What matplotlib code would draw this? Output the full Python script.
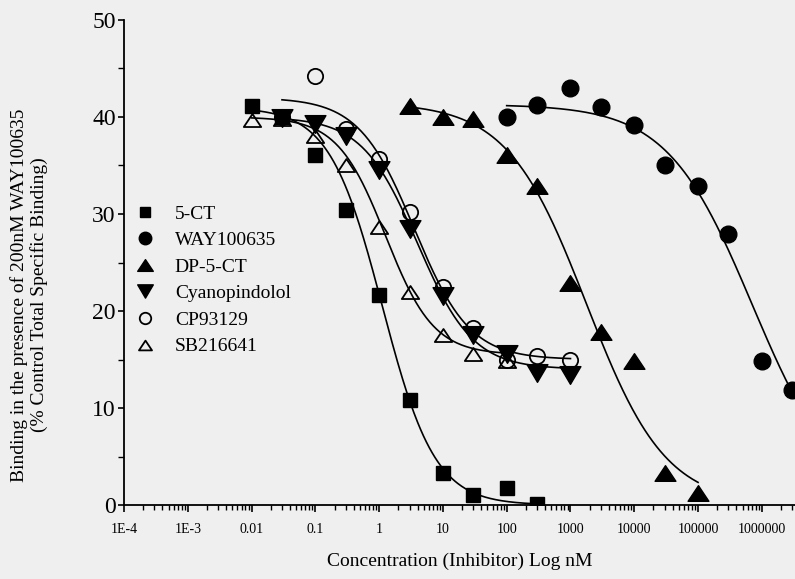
import numpy as np
import matplotlib
matplotlib.use('Agg')
import matplotlib.pyplot as plt
from matplotlib.path import Path
from matplotlib.ticker import FixedLocator, FixedFormatter, LogLocator, NullFormatter, MultipleLocator

plt.rcParams['font.family'] = ['Liberation Serif', 'DejaVu Serif']

# концентрация ингибитора (нМ) и связывание (% от контроля)
ct5_x = [0.01, 0.03, 0.1, 0.3, 1, 3, 10, 30, 100, 300]
ct5_y = [41.1, 40.0, 36.1, 30.4, 21.7, 10.8, 3.3, 1.0, 1.8, 0.1]

way_x = [100, 300, 1000, 3000, 1e4, 3e4, 1e5, 3e5, 1e6, 3e6]
way_y = [40.0, 41.2, 43.0, 41.0, 39.2, 35.1, 32.9, 27.9, 14.8, 11.9]

dp_x = [3, 10, 30, 100, 300, 1000, 3000, 1e4, 3e4, 1e5]
dp_y = [41.1, 40.0, 39.8, 36.1, 32.9, 22.9, 17.8, 14.8, 3.3, 1.2]

cyano_x = [0.03, 0.1, 0.3, 1, 3, 10, 30, 100, 300, 1000]
cyano_y = [39.9, 39.3, 38.0, 34.5, 28.5, 21.5, 17.5, 15.6, 13.6, 13.4]

cp_x = [0.03, 0.1, 0.3, 1, 3, 10, 30, 100, 300, 1000]
cp_y = [40.0, 44.2, 38.8, 35.7, 30.2, 22.5, 18.2, 14.9, 15.4, 14.9]

sb_x = [0.01, 0.03, 0.1, 0.3, 1, 3, 10, 30, 100]
sb_y = [39.7, 39.8, 38.0, 35.1, 28.7, 22.0, 17.5, 15.6, 14.8]

# параметры сигмоид: верх, низ, logIC50, коэффициент Хилла
ct5_fit = [41.0, 0.0, 0.05, 1.05]
way_fit = [41.3, 0.0, 5.85, 0.65]
dp_fit = [41.5, 0.0, 3.25, 0.70]
cyano_fit = [40.0, 14.0, 0.60, 1.0]
cp_fit = [42.0, 15.0, 0.55, 1.0]
sb_fit = [40.0, 15.5, 0.10, 1.15]

names = ['5-CT', 'WAY100635', 'DP-5-CT', 'Cyanopindolol', 'CP93129', 'SB216641']
xtick_pos = [1e-4, 1e-3, 0.01, 0.1, 1, 10, 100, 1000, 1e4, 1e5, 1e6]
xtick_lab = ['1E-4', '1E-3', '0.01', '0.1', '1', '10', '100', '1000', '10000', '100000', '1000000']


def hill(x, top, bottom, logic50, h):
    return bottom + (top - bottom) / (1 + 10 ** ((np.log10(x) - logic50) * h))


# сплюснутые треугольники как на скане
tri_up = Path([(0, 0.75), (-1, -0.75), (1, -0.75), (0, 0.75)], closed=True)
tri_dn = Path([(0, -0.85), (-1, 0.85), (1, 0.85), (0, -0.85)], closed=True)

styles = [
    dict(marker='s', ms=9.5, mfc='k'),
    dict(marker='o', ms=12, mfc='k'),
    dict(marker=tri_up, ms=15, mfc='k'),
    dict(marker=tri_dn, ms=15, mfc='k'),
    dict(marker='o', ms=11, mfc='none', mew=1.3),
    dict(marker=tri_up, ms=12.5, mfc='none', mew=1.3),
]

series = [(ct5_x, ct5_y, ct5_fit), (way_x, way_y, way_fit), (dp_x, dp_y, dp_fit),
          (cyano_x, cyano_y, cyano_fit), (cp_x, cp_y, cp_fit), (sb_x, sb_y, sb_fit)]

bg = '#efefef'
fig = plt.figure(figsize=(7.95, 5.79), dpi=100, facecolor=bg)
ax = fig.add_axes([124 / 795, 74 / 579, 1 - 124 / 795, 485 / 579], facecolor=bg)

handles = []
for (x, y, p), name, st in zip(series, names, styles):
    xs = np.logspace(np.log10(min(x)), np.log10(max(x)), 300)
    ax.plot(xs, hill(xs, *p), color='k', lw=1.2, zorder=2)
    h, = ax.plot(x, y, ls='none', mec='k', label=name, zorder=3, **st)
    handles.append(h)

ax.set_xscale('log')
ax.set_xlim(1e-4, 10 ** 6.52)
ax.set_ylim(0, 50)

ax.xaxis.set_major_locator(FixedLocator(xtick_pos))
ax.xaxis.set_major_formatter(FixedFormatter(xtick_lab))
ax.xaxis.set_minor_locator(LogLocator(base=10, subs=np.arange(2, 10), numticks=20))
ax.xaxis.set_minor_formatter(NullFormatter())
ax.yaxis.set_major_locator(MultipleLocator(10))
ax.yaxis.set_minor_locator(MultipleLocator(5))

for s in ['top', 'right']:
    ax.spines[s].set_visible(False)
for s in ['left', 'bottom']:
    ax.spines[s].set_linewidth(1.3)

ax.tick_params(axis='x', which='major', direction='out', length=5, width=1.2, labelsize=10, pad=8)
ax.tick_params(axis='x', which='minor', direction='out', length=3.5, width=1.0)
ax.tick_params(axis='y', which='major', direction='out', length=4, width=1.2, labelsize=17, pad=2)
ax.tick_params(axis='y', which='minor', direction='out', length=4, width=1.0)

ax.set_xlabel('Concentration (Inhibitor) Log nM', fontsize=14, labelpad=12)
fig.text(29 / 795, 1 - 295 / 579,
         'Binding in the presence of 200nM WAY100635\n(% Control Total Specific Binding)',
         rotation=90, ha='center', va='center', multialignment='center',
         fontsize=14, linespacing=1.15)

ax.legend(handles=handles, loc='upper left', bbox_to_anchor=(135 / 795, 1 - 205 / 579),
          bbox_transform=fig.transFigure, frameon=False, fontsize=14, markerscale=0.75,
          handlelength=1.0, handletextpad=1.05, labelspacing=0.46, borderpad=0,
          borderaxespad=0, numpoints=1)

fig.savefig('out.png', dpi=100, facecolor=bg)
